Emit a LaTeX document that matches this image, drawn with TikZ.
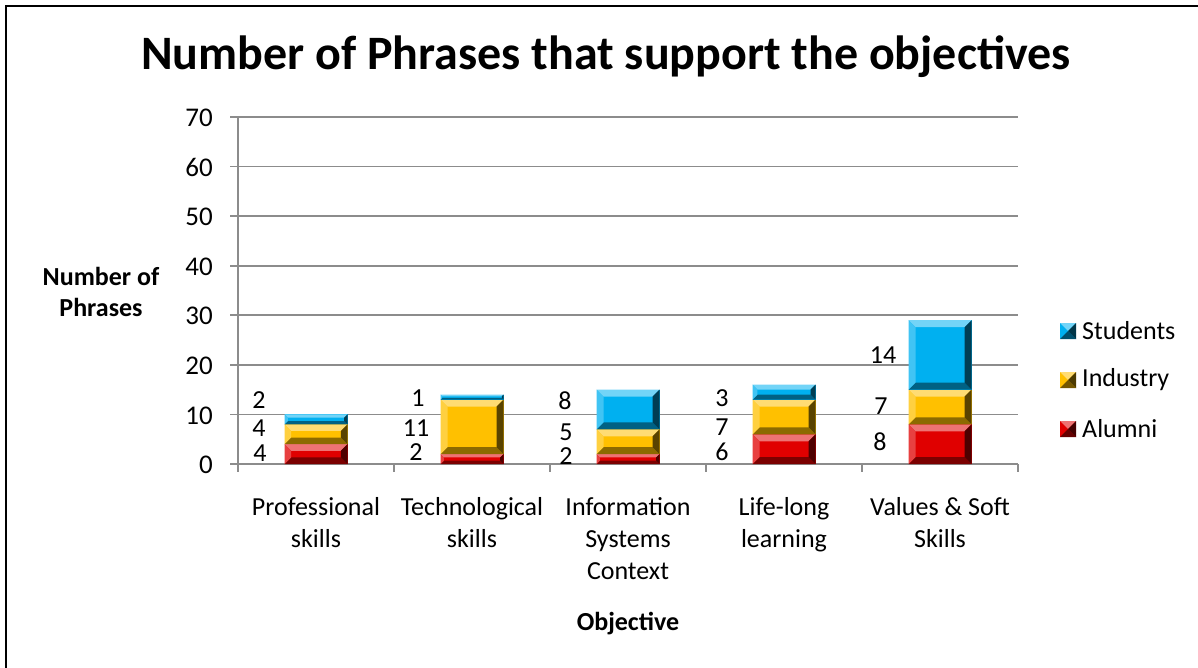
\documentclass[tikz,border=0pt]{standalone}
\usepackage{fontspec}
\setmainfont{Carlito}
\definecolor{stud}{HTML}{00B0F0}
\definecolor{indu}{HTML}{FFC000}
\definecolor{alum}{HTML}{E00000}
\definecolor{gridc}{HTML}{8C8C8C}
\tikzset{
  grid line/.style={draw=gridc, line width=1.6pt},
  tick label/.style={font=\fontsize{27}{30}\selectfont, anchor=east, inner sep=0pt},
  data label/.style={font=\fontsize{26}{28}\selectfont, inner sep=0pt, text height=17pt, text depth=0pt},
  cat label/.style={font=\fontsize{26}{32}\selectfont, align=center, anchor=north, inner sep=0pt},
  axis title/.style={font=\bfseries\fontsize{26}{31}\selectfont, align=center, inner sep=0pt},
  legend text/.style={font=\fontsize{26}{28}\selectfont, anchor=west, inner sep=0pt},
}
\newcommand\barseg[4]{%
  \pgfmathsetmacro\yb{464-#2*4.957}%
  \pgfmathsetmacro\yt{464-#3*4.957}%
  \pgfmathsetmacro\dd{min(7,(\yb-\yt)/3)}%
  \pgfmathsetmacro\xl{#1-31.5}%
  \pgfmathsetmacro\xr{#1+31.5}%
  \fill[#4] (\xl,\yb) rectangle (\xr,\yt);
  \fill[#4!55!white] (\xl,\yt) -- (\xr,\yt) -- (\xr-\dd,\yt+\dd) -- (\xl+\dd,\yt+\dd) -- cycle;
  \fill[#4!55!black] (\xl,\yb) -- (\xr,\yb) -- (\xr-\dd,\yb-\dd) -- (\xl+\dd,\yb-\dd) -- cycle;
  \fill[#4!75!white] (\xl,\yb) -- (\xl,\yt) -- (\xl+\dd,\yt+\dd) -- (\xl+\dd,\yb-\dd) -- cycle;
  \fill[#4!35!black] (\xr,\yb) -- (\xr,\yt) -- (\xr-\dd,\yt+\dd) -- (\xr-\dd,\yb-\dd) -- cycle;
}
\newcommand\legmark[3]{%
  \fill[#3] (#1-8,#2-8) rectangle (#1+8,#2+8);
  \fill[#3!55!white] (#1-8,#2-8) -- (#1+8,#2-8) -- (#1,#2) -- cycle;
  \fill[#3!45!black] (#1-8,#2+8) -- (#1+8,#2+8) -- (#1,#2) -- cycle;
  \fill[#3!30!black] (#1+8,#2-8) -- (#1+8,#2+8) -- (#1,#2) -- cycle;
}
\begin{document}
\begin{tikzpicture}[x=1pt,y=-1pt]
\useasboundingbox (0,0) rectangle (1198,668);
\fill[white] (0,0) rectangle (1198,668);
% outer frame (right and bottom edges lie outside the picture)
\draw[line width=2.2pt] (6,700) -- (6,6) -- (1250,6);
% title
\node[font=\bfseries\fontsize{48}{52}\selectfont, inner sep=0pt] (title) at (606,57) {Number of Phrases that support the objectives};
% grid
\foreach \v in {10,20,...,70}{
  \draw[grid line] (230,{464-\v*4.957}) -- (1018,{464-\v*4.957});
}
\foreach \v in {0,10,...,70}{
  \node[tick label] (t\v) at (213,{464-\v*4.957+1}) {\v};
}
\draw[grid line] (238,117) -- (238,472);
\draw[grid line] (230,464) -- (1018,464);
\foreach \x in {394,550,706,862,1018}{
  \draw[grid line] (\x,464) -- (\x,472);
}
% bars
\barseg{316}{0}{4}{alum}\barseg{316}{4}{8}{indu}\barseg{316}{8}{10}{stud}
\barseg{472}{0}{2}{alum}\barseg{472}{2}{13}{indu}\barseg{472}{13}{14}{stud}
\barseg{628}{0}{2}{alum}\barseg{628}{2}{7}{indu}\barseg{628}{7}{15}{stud}
\barseg{784}{0}{6}{alum}\barseg{784}{6}{13}{indu}\barseg{784}{13}{16}{stud}
\barseg{940}{0}{8}{alum}\barseg{940}{8}{15}{indu}\barseg{940}{15}{29}{stud}
% data labels
\node[data label] (p3) at (259,400) {2};
\node[data label] (p2) at (259,428) {4};
\node[data label] (p1) at (260,453) {4};
\node[data label] (q3) at (418,398) {1};
\node[data label] (q2) at (416,428) {11};
\node[data label] (q1) at (416,452) {2};
\node[data label] (r3) at (565,401) {8};
\node[data label] (r2) at (566,432) {5};
\node[data label] (r1) at (566,456) {2};
\node[data label] (s3) at (722,398) {3};
\node[data label] (s2) at (722,427) {7};
\node[data label] (s1) at (722,452) {6};
\node[data label] (u3) at (883,355) {14};
\node[data label] (u2) at (881,406) {7};
\node[data label] (u1) at (880,442) {8};
% category labels
\node[cat label] (c1) at (316,497) {Professional\\skills};
\node[cat label] (c2) at (472,497) {Technological\\skills};
\node[cat label] (c3) at (628,497) {Information\\Systems\\Context};
\node[cat label] (c4) at (784,497) {Life-long\\learning};
\node[cat label] (c5) at (940,497) {Values \& Soft\\Skills};
% axis titles
\node[axis title] (ytitle) at (101,292) {Number of\\Phrases};
\node[axis title] (xtitle) at (628,624) {Objective};
% legend
\legmark{1068}{331}{stud}
\legmark{1068}{380}{indu}
\legmark{1068}{429}{alum}
\node[legend text] (l1) at (1082,331) {Students};
\node[legend text] (l2) at (1082,380) {Industry};
\node[legend text] (l3) at (1082,429) {Alumni};
\end{tikzpicture}
\end{document}
